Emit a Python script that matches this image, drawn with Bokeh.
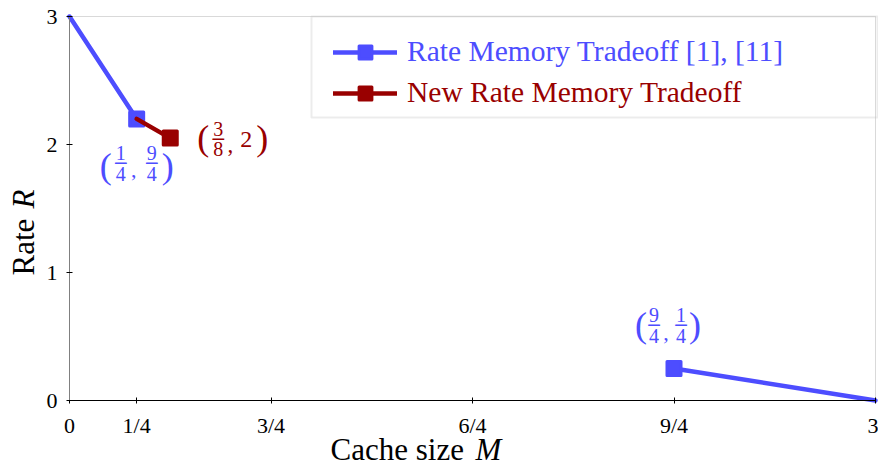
import numpy as np
from bokeh.plotting import figure
from bokeh.models import Range1d, FixedTicker, Legend, LegendItem, Label, BoxAnnotation
from bokeh.embed import file_html
from bokeh.resources import INLINE

BLUE = "#4d4dff"
RED = "#990000"
FONT = "Liberation Serif"

# ---- data ----
x_ticks = [0, 0.25, 0.75, 1.5, 2.25, 3]
x_tick_labels = ["0", "1/4", "3/4", "6/4", "9/4", "3"]
y_ticks = [0, 1, 2, 3]

blue_x = [0, 0.25, np.nan, 2.25, 3]
blue_y = [3, 2.2, np.nan, 0.25, 0]
blue_mark_x = [0.25, 2.25]
blue_mark_y = [2.2, 0.25]
red_x = [0.25, 0.375]
red_y = [2.2, 2.05]
red_mark_x = [0.375]
red_mark_y = [2.05]

legend_labels = ["Rate Memory Tradeoff [1], [11]", "New Rate Memory Tradeoff"]

# ---- layout (pixels) ----
W, H = 878, 466
FL, FR, FT, FB = 69, 875, 16, 400   # where the data box sits on the canvas
XMIN, XMAX, YMIN, YMAX = 0.0, 3.0, 0.0, 3.0
xs = (FR - FL) / (XMAX - XMIN)
ys = (FB - FT) / (YMAX - YMIN)

p = figure(width=W, height=H, min_border=0,
           x_range=Range1d(XMIN - FL / xs, XMAX + (W - FR) / xs),
           y_range=Range1d(YMIN - (H - FB) / ys, YMAX + FT / ys),
           output_backend="svg", toolbar_location=None)

p.xgrid.visible = False
p.ygrid.visible = False
p.outline_line_color = None

# data-area box (gray frame)
p.add_layout(BoxAnnotation(left=XMIN, right=XMAX, bottom=YMIN, top=YMAX,
                           fill_alpha=0, line_color="#808080", line_width=1,
                           level="underlay"))

p.xaxis.fixed_location = 0
p.yaxis.fixed_location = 0
p.xaxis.bounds = (XMIN, XMAX)
p.yaxis.bounds = (YMIN, YMAX)
p.xaxis.ticker = FixedTicker(ticks=x_ticks)
p.xaxis.major_label_overrides = dict(zip(x_ticks, x_tick_labels))
p.yaxis.ticker = FixedTicker(ticks=y_ticks)
for ax in (p.xaxis, p.yaxis):
    ax.minor_tick_line_color = None
    ax.major_tick_in = 3
    ax.major_tick_out = 3
    ax.major_label_text_font = FONT
    ax.major_label_text_font_size = "22px"
    ax.major_label_text_color = "black"
p.xaxis.axis_line_color = "black"
p.xaxis.major_tick_line_color = "black"
p.yaxis.axis_line_color = "#808080"
p.yaxis.major_tick_line_color = "black"
p.xaxis.major_label_standoff = 9
p.yaxis.major_label_standoff = 9

bl = p.line(blue_x, blue_y, line_color=BLUE, line_width=4.5, line_cap="round")
bm = p.scatter(blue_mark_x, blue_mark_y, marker="square", size=14, fill_color=BLUE,
               line_color=BLUE, line_width=3, line_join="round")
rl = p.line(red_x, red_y, line_color=RED, line_width=4.5, line_cap="round")
rm = p.scatter(red_mark_x, red_mark_y, marker="square", size=14, fill_color=RED,
               line_color=RED, line_width=3, line_join="round")

# legend (two legends so each label keeps its colour) + box around both
for i, (rs, col, cy) in enumerate([([bl, bm], BLUE, 52), ([rl, rm], RED, 93)]):
    lg = Legend(items=[LegendItem(label=legend_labels[i], renderers=rs)],
                location=(333, H - cy - 16), border_line_color=None, background_fill_alpha=0,
                padding=0, margin=0, spacing=0,
                glyph_width=64, glyph_height=32, label_height=32, label_standoff=10,
                label_text_font=FONT, label_text_font_size="29.5px", label_text_color=col,
                label_text_baseline="middle")
    p.add_layout(lg)

p.add_layout(BoxAnnotation(left=311, right=877, top=H - 16, bottom=H - 117,
                           left_units="screen", right_units="screen",
                           top_units="screen", bottom_units="screen",
                           fill_alpha=0, line_color="#c0c0c0", line_width=2))


def txt(x, y, dx, dy, s, size, color, font=FONT):
    p.add_layout(Label(x=x, y=y, x_offset=dx, y_offset=-dy, text=s,
                       text_font=font, text_font_size=f"{size}px", text_color=color,
                       text_align="center", text_baseline="middle"))


def frac_label(x, y, parts, color):
    for kind, dx, dy, s in parts:
        if kind == "bar":
            txt(x, y, dx, dy, "\u2500", 19, color, "DejaVu Sans Mono")
        else:
            txt(x, y, dx, dy, s, kind, color)

# (1/4, 9/4)
frac_label(blue_mark_x[0], blue_mark_y[0], [
    (36, -31, 47, "("), (20, -16, 34, "1"), ("bar", -16, 44, ""), (20, -16, 55, "4"),
    (22, -3, 51, ","), (20, 15, 34, "9"), ("bar", 15, 44, ""), (20, 15, 55, "4"),
    (36, 31, 47, ")")], BLUE)
# (9/4, 1/4)
frac_label(blue_mark_x[1], blue_mark_y[1], [
    (36, -33, -44, "("), (20, -20, -54, "9"), ("bar", -20, -44, ""), (20, -20, -33, "4"),
    (22, -8, -36, ","), (20, 7, -54, "1"), ("bar", 7, -44, ""), (20, 7, -33, "4"),
    (36, 21, -44, ")")], BLUE)
# (3/8, 2)
frac_label(red_mark_x[0], red_mark_y[0], [
    (36, 33, 0, "("), (20, 48, -9, "3"), ("bar", 48, 1, ""), (20, 48, 11, "8"),
    (23, 60, 6, ","), (24, 76, 1, "2"), (36, 92, 0, ")")], RED)

# axis titles
def title(x, y, s, style, angle=0.0):
    p.add_layout(Label(x=x, y=y, x_units="screen", y_units="screen", text=s, angle=angle,
                       text_font=FONT, text_font_size="31px", text_color="black",
                       text_font_style=style, text_align="left", text_baseline="alphabetic"))

title(330, H - 449, "Cache size", "normal")
title(475, H - 449, "M", "italic")
title(23, H - 275, "Rate", "normal", np.pi / 2)
title(23, H - 208, "R", "italic", np.pi / 2)

open("out.html", "w").write(file_html(p, INLINE))
